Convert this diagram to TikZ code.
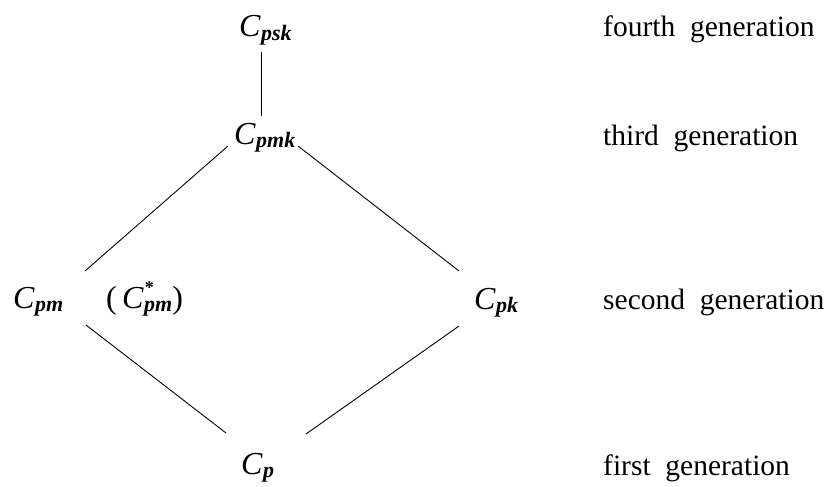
\documentclass[tikz,border=0pt]{standalone}
\usepackage{fontspec}
\setmainfont{Liberation Serif}
\newcommand{\Csub}[1]{\textit{C}\kern0.01em\raisebox{-0.12em}{\fontsize{22}{22}\selectfont\textit{\textbf{#1}}}}
\newcommand{\Cstar}[1]{\textit{C}\rlap{\kern0.03em\raisebox{0.45em}{\fontsize{18}{18}\selectfont\textbf{*}}}\kern0.01em\raisebox{-0.12em}{\fontsize{22}{22}\selectfont\textit{\textbf{#1}}}}
\tikzset{
  cnode/.style={inner sep=0pt, anchor=base west, font=\fontsize{32}{32}\selectfont},
  gen/.style={inner sep=0pt, anchor=base west, font=\fontsize{29.5}{29.5}\selectfont},
  link/.style={line width=0.9pt}
}
\begin{document}
\begin{tikzpicture}[x=1pt,y=-1pt]
\useasboundingbox (0,0) rectangle (831,487);
\node[cnode] (psk) at (239,37) {\Csub{psk}};
\node[cnode] (pmk) at (234,144) {\Csub{pmk}};
\node[cnode] (pm) at (13,308) {\Csub{pm}};
\node[cnode] (pmstar) at (106,308) {(\,\Cstar{pm})};
\node[cnode] (pk) at (474,309) {\Csub{pk}};
\node[cnode] (p) at (241,474) {\Csub{p}};
\node[gen] (g4) at (603,37) {fourth\ \ generation};
\node[gen] (g3) at (603,146) {third\ \ generation};
\node[gen] (g2) at (603,309) {second\ \ generation};
\node[gen] (g1) at (603,475) {first\ \ generation};
\coordinate (a1) at (261,52); \coordinate (a2) at (261,116);
\coordinate (b1) at (228,146); \coordinate (b2) at (85,271);
\coordinate (c1) at (298,146); \coordinate (c2) at (459,271);
\coordinate (d1) at (86,325); \coordinate (d2) at (226,433);
\coordinate (e1) at (459,326); \coordinate (e2) at (306,434);
\draw[link] (a1) -- (a2);
\draw[link] (b1) -- (b2);
\draw[link] (c1) -- (c2);
\draw[link] (d1) -- (d2);
\draw[link] (e1) -- (e2);
\end{tikzpicture}
\end{document}
